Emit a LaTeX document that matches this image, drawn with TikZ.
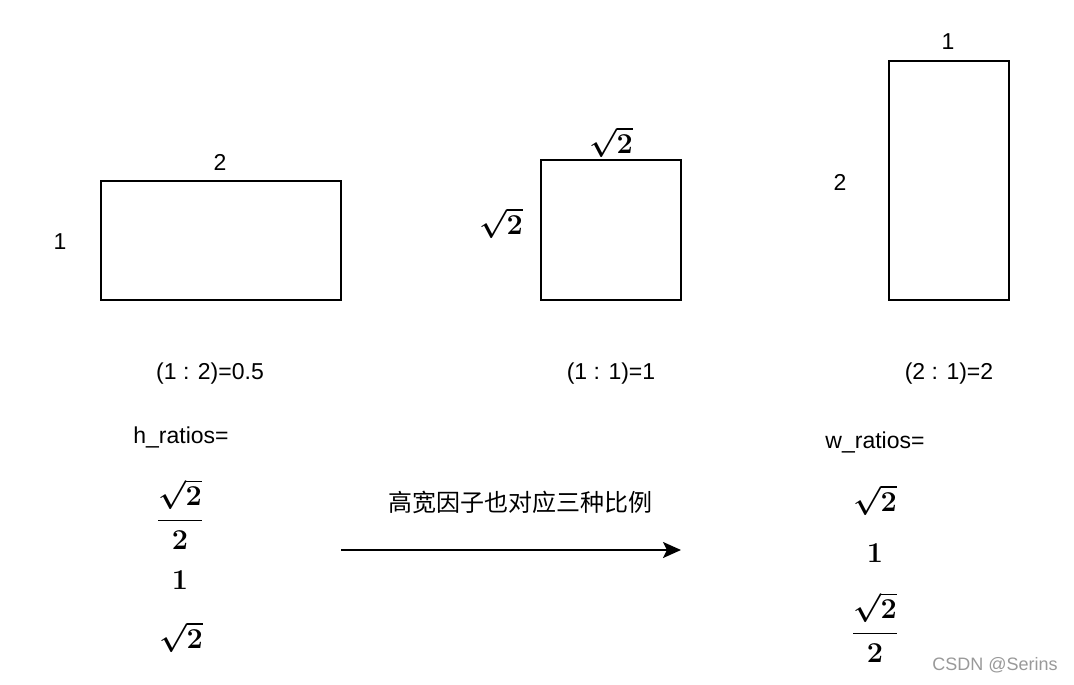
\documentclass[tikz,border=0pt]{standalone}
\usepackage{amsmath}
\usepackage[no-math]{fontspec}
\setmainfont{Liberation Sans}
\newfontfamily\cjk{Noto Sans CJK SC}
\usetikzlibrary{arrows.meta}

\tikzset{
	box/.style={draw, line width=1pt},
	lbl/.style={font=\fontsize{11.5}{14}\selectfont},
	mth/.style={font=\fontsize{14}{17}\selectfont\boldmath},
}

\begin{document}
\begin{tikzpicture}[x=0.5pt,y=-0.5pt]
	\useasboundingbox (0,0) rectangle (1074,684);

	% the three boxes
	\draw[box] (101,181) rectangle (341,300);
	\draw[box] (541,160) rectangle (681,300);
	\draw[box] (889,61) rectangle (1009,300);

	\node[lbl] (wA) at (220,162) {2};
	\node[lbl] (hA) at (60,242) {1};
	\node[mth] (wB) at (611,142) {$\sqrt{2}$};
	\node[mth] (hB) at (501,223) {$\sqrt{2}$};
	\node[lbl] (wC) at (948,42) {1};
	\node[lbl] (hC) at (840,182) {2};

	\node[lbl] (rA) at (210,374) {(1 : 2)=0.5};
	\node[lbl] (rB) at (611,374) {(1 : 1)=1};
	\node[lbl] (rC) at (949,374) {(2 : 1)=2};

	% ratio lists
	\node[lbl] (hr) at (181,437) {h\_ratios=};
	\node[mth] (hr1) at (180,514) {$\dfrac{\sqrt{2}}{2}$};
	\node[mth] (hr2) at (180,580) {$1$};
	\node[mth] (hr3) at (181,637) {$\sqrt{2}$};

	\node[lbl] (wr) at (875,442) {w\_ratios=};
	\node[mth] (wr1) at (875,500) {$\sqrt{2}$};
	\node[mth] (wr2) at (875,553) {$1$};
	\node[mth] (wr3) at (875,627) {$\dfrac{\sqrt{2}}{2}$};

	% arrow
	\node[font=\fontsize{12}{14}\selectfont] (note) at (520,502) {\cjk 高宽因子也对应三种比例};
	\coordinate (arrL) at (341,550);
	\coordinate (arrR) at (681,550);
	\draw[line width=1pt, -{Stealth[length=9pt,width=8pt,inset=2pt]}] (arrL) -- (arrR);

	\node[font=\fontsize{9}{11}\selectfont, text=black!40] (mark) at (995,665) {CSDN @Serins};
\end{tikzpicture}
\end{document}
